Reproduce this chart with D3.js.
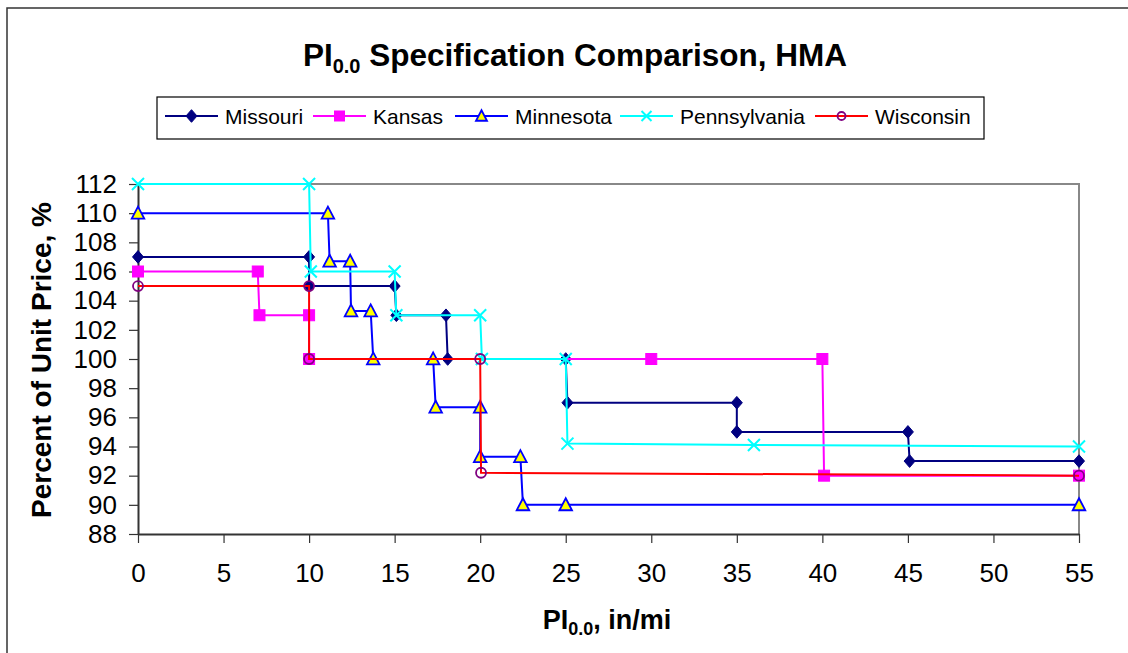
<!DOCTYPE html>
<html>
<head>
<meta charset="utf-8">
<script src="https://cdn.jsdelivr.net/npm/d3@7"></script>
<style>
  html, body { margin: 0; padding: 0; background: #fff; }
  svg { display: block; font-family: "Liberation Sans", Arial, sans-serif; }
</style>
</head>
<body>
<svg id="chart" width="1128" height="653"></svg>
<script>
// ---- data ----
const seriesNames = ["Missouri", "Kansas", "Minnesota", "Pennsylvania", "Wisconsin"];
const missouriX = [0, 10, 10, 15, 15.1, 18, 18.1, 25, 25.1, 35, 35, 45, 45.1, 55];
const missouriY = [107, 107, 105, 105, 103, 103, 100, 100, 97, 97, 95, 95, 93, 93];
const kansasX = [0, 7, 7.1, 10, 10, 30, 40, 40.1, 55];
const kansasY = [106, 106, 103, 103, 100, 100, 100, 92, 92];
const minnesotaX = [0, 11.1, 11.2, 12.4, 12.45, 13.6, 13.75, 17.25, 17.4, 20, 20, 22.35, 22.5, 25, 55];
const minnesotaY = [110, 110, 106.7, 106.7, 103.3, 103.3, 100, 100, 96.7, 96.7, 93.3, 93.3, 90, 90, 90];
const pennsylvaniaX = [0, 10, 10.1, 15, 15.1, 20, 20.1, 25, 25.1, 36, 55];
const pennsylvaniaY = [112, 112, 106, 106, 103, 103, 100, 100, 94.2, 94.1, 94];
const wisconsinX = [0, 10, 10, 20, 20.05, 55];
const wisconsinY = [105, 105, 100, 100, 92.2, 92];
const xTicks = [0, 5, 10, 15, 20, 25, 30, 35, 40, 45, 50, 55];
const yTicks = [88, 90, 92, 94, 96, 98, 100, 102, 104, 106, 108, 110, 112];

// ---- styles ----
const styles = {
  Missouri:     { line: "#000080", marker: "diamond",  fill: "#000080", stroke: "#000080" },
  Kansas:       { line: "#FF00FF", marker: "square",   fill: "#FF00FF", stroke: "#FF00FF" },
  Minnesota:    { line: "#0000FF", marker: "triangle", fill: "#FFFF00", stroke: "#0000FF" },
  Pennsylvania: { line: "#00FFFF", marker: "x",        fill: "none",    stroke: "#00FFFF" },
  Wisconsin:    { line: "#FF0000", marker: "circle",   fill: "none",    stroke: "#800080" }
};

const series = [
  { name: "Missouri", xs: missouriX, ys: missouriY },
  { name: "Kansas", xs: kansasX, ys: kansasY },
  { name: "Minnesota", xs: minnesotaX, ys: minnesotaY },
  { name: "Pennsylvania", xs: pennsylvaniaX, ys: pennsylvaniaY },
  { name: "Wisconsin", xs: wisconsinX, ys: wisconsinY }
].map(s => ({ name: s.name, pts: s.xs.map((x, i) => ({ x, y: s.ys[i] })) }));

const svg = d3.select("#chart");

// outer chart border
svg.append("rect").attr("x", 7).attr("y", 8).attr("width", 1140).attr("height", 660)
  .attr("fill", "#fff").attr("stroke", "#333").attr("stroke-width", 1.5);

const plot = { left: 138, right: 1079, top: 184, bottom: 534 };
const x = d3.scaleLinear().domain([0, 55]).range([plot.left, plot.right]);
const y = d3.scaleLinear().domain([88, 112]).range([plot.bottom, plot.top]);

// plot area frame (top/right gray)
svg.append("path")
  .attr("d", `M${plot.left},${plot.top}H${plot.right}V${plot.bottom}`)
  .attr("fill", "none").attr("stroke", "#888").attr("stroke-width", 2);

// axes
const yAxis = svg.append("g").attr("transform", `translate(${plot.left},0)`)
  .call(d3.axisLeft(y).tickValues(yTicks).tickSize(9).tickPadding(12).tickSizeOuter(0));
const xAxis = svg.append("g").attr("transform", `translate(0,${plot.bottom})`)
  .call(d3.axisBottom(x).tickValues(xTicks).tickSize(9).tickPadding(21).tickSizeOuter(0));
[yAxis, xAxis].forEach(a => {
  a.select(".domain").attr("stroke", "#333").attr("stroke-width", 2);
  a.selectAll(".tick line").attr("stroke", "#333").attr("stroke-width", 1.2);
  a.selectAll(".tick text").attr("fill", "#000").style("font-size", "26px")
    .style("font-family", "'Liberation Sans', Arial, sans-serif");
});

// marker drawing
function drawMarker(g, type, st, size) {
  const s = size;
  if (type === "diamond") {
    g.append("path").attr("d", `M0,${-s * 1.15}L${s},0L0,${s * 1.15}L${-s},0Z`)
      .attr("fill", st.fill).attr("stroke", st.stroke).attr("stroke-width", 1);
  } else if (type === "square") {
    g.append("rect").attr("x", -s).attr("y", -s).attr("width", 2 * s).attr("height", 2 * s)
      .attr("fill", st.fill).attr("stroke", st.stroke).attr("stroke-width", 1);
  } else if (type === "triangle") {
    g.append("path").attr("d", `M0,${-s * 1.15}L${s * 1.1},${s * 0.95}L${-s * 1.1},${s * 0.95}Z`)
      .attr("fill", st.fill).attr("stroke", st.stroke).attr("stroke-width", 1.8);
  } else if (type === "x") {
    g.append("path").attr("d", `M${-s},${-s}L${s},${s}M${-s},${s}L${s},${-s}`)
      .attr("fill", "none").attr("stroke", st.stroke).attr("stroke-width", 2);
  } else if (type === "circle") {
    g.append("circle").attr("r", s).attr("fill", "none")
      .attr("stroke", st.stroke).attr("stroke-width", 1.8);
  }
}
const markerSize = { diamond: 5.5, square: 5.5, triangle: 5.7, x: 6, circle: 5 };

const line = d3.line().x(d => x(d.x)).y(d => y(d.y));
series.forEach(s => {
  const st = styles[s.name];
  const g = svg.append("g");
  g.append("path").datum(s.pts).attr("d", line)
    .attr("fill", "none").attr("stroke", st.line).attr("stroke-width", 2);
  s.pts.forEach(p => {
    const m = g.append("g").attr("transform", `translate(${x(p.x)},${y(p.y)})`);
    drawMarker(m, st.marker, st, markerSize[st.marker]);
  });
});

// title
const title = svg.append("text").attr("x", 575).attr("y", 66).attr("text-anchor", "middle")
  .style("font-size", "31.5px").style("font-weight", "bold").attr("fill", "#000");
title.append("tspan").text("PI");
title.append("tspan").attr("dy", 7).style("font-size", "20px").text("0.0");
title.append("tspan").attr("dy", -7).text(" Specification Comparison, HMA");

// x axis title
const xt = svg.append("text").attr("x", 607).attr("y", 629).attr("text-anchor", "middle")
  .style("font-size", "27px").style("font-weight", "bold").attr("fill", "#000");
xt.append("tspan").text("PI");
xt.append("tspan").attr("dy", 6).style("font-size", "18px").text("0.0");
xt.append("tspan").attr("dy", -6).text(", in/mi");

// y axis title
svg.append("text").attr("transform", "translate(51,360) rotate(-90)").attr("text-anchor", "middle")
  .style("font-size", "28px").style("font-weight", "bold").attr("fill", "#000")
  .text("Percent of Unit Price, %");

// legend
svg.append("rect").attr("x", 157).attr("y", 97).attr("width", 827).attr("height", 42)
  .attr("fill", "#fff").attr("stroke", "#000").attr("stroke-width", 1.2);
const legendLineStart = [165, 313, 455, 620, 815];
const legendSize = { diamond: 5.5, square: 5, triangle: 5, x: 5, circle: 4 };
series.forEach((s, i) => {
  const st = styles[s.name];
  const lx = legendLineStart[i];
  const g = svg.append("g").attr("transform", `translate(${lx},116)`);
  g.append("line").attr("x1", 0).attr("x2", 53).attr("stroke", st.line).attr("stroke-width", 2);
  const m = g.append("g").attr("transform", "translate(26.5,0)");
  drawMarker(m, st.marker, st, legendSize[st.marker]);
  g.append("text").attr("x", 60).attr("y", 7.5).style("font-size", "21px").attr("fill", "#000").text(s.name);
});
</script>
</body>
</html>
